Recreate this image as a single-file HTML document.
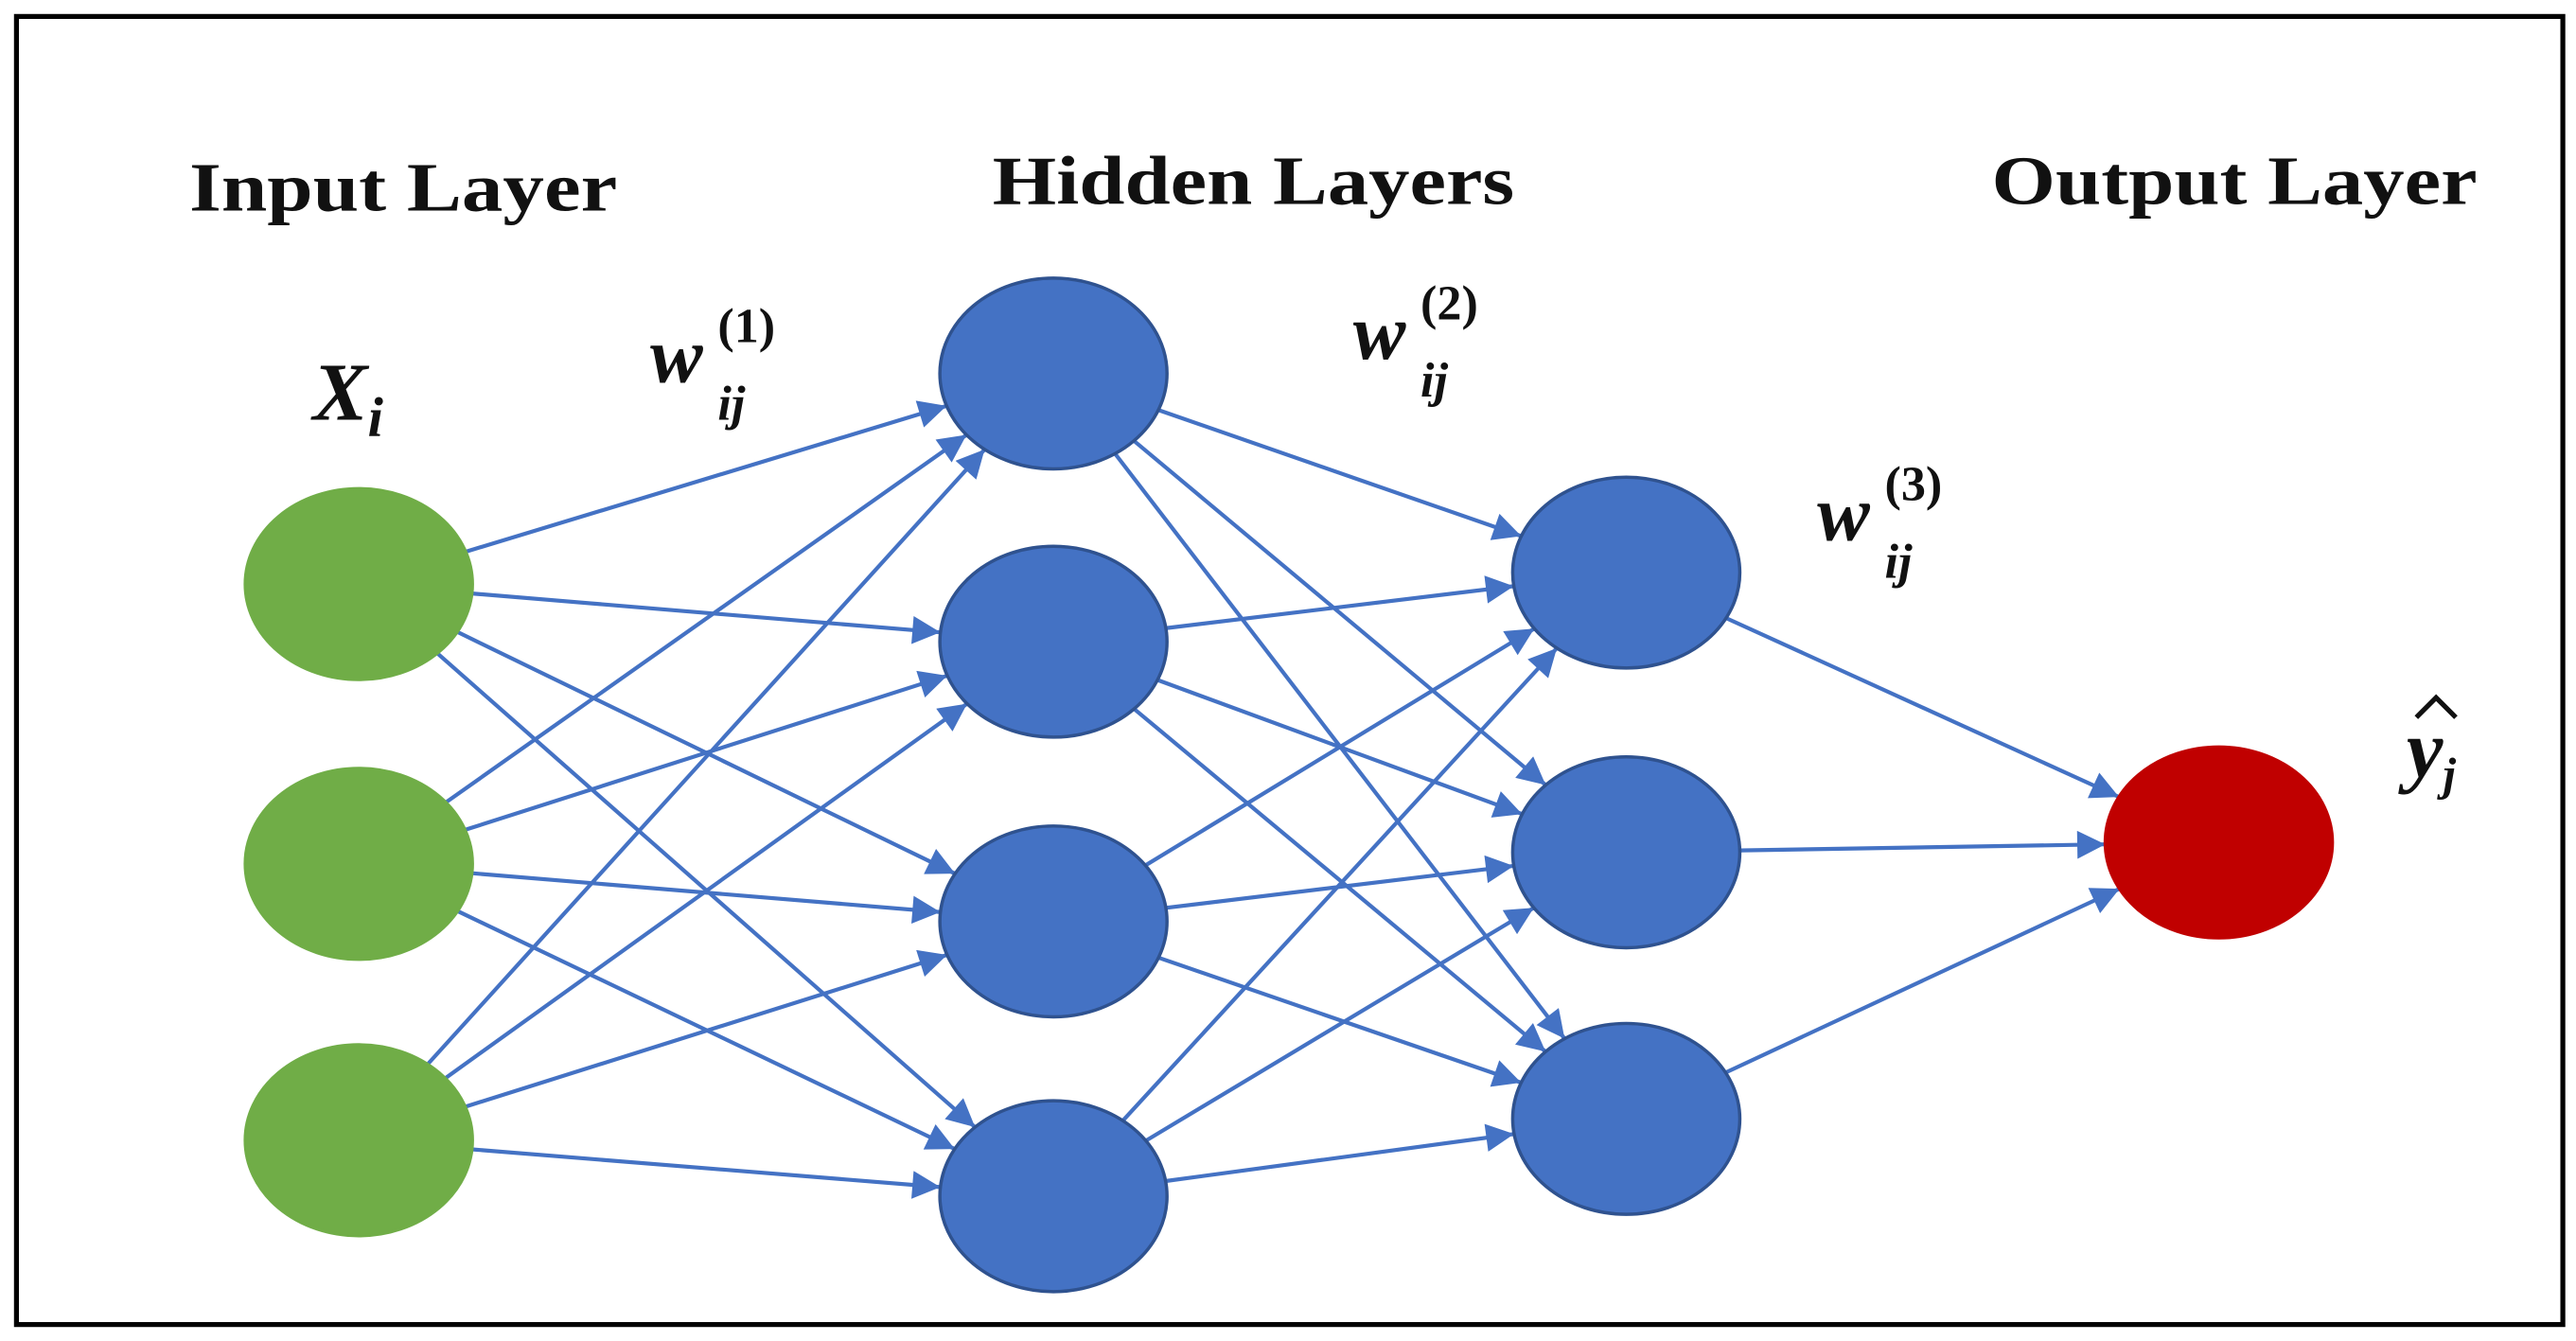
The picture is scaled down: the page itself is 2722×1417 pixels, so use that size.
<!DOCTYPE html>
<html><head><meta charset="utf-8"><style>
html,body{margin:0;padding:0;background:#fff;width:2722px;height:1417px;overflow:hidden}
svg{display:block}
text{font-family:"Liberation Serif",serif;fill:#111}
</style></head><body>
<svg id="s" width="2722" height="1417" viewBox="0 0 1565 815" preserveAspectRatio="none" xmlns="http://www.w3.org/2000/svg">
<defs>
<marker id="a" viewBox="0 0 10 10" refX="10" refY="5" markerWidth="22" markerHeight="17" markerUnits="userSpaceOnUse" orient="auto">
<path d="M0,0 L10,5 L0,10 z" fill="#4472C4"/></marker>
</defs>
<rect x="10" y="10" width="1547" height="795" fill="#fff" stroke="#000" stroke-width="3"/>
<g id="edges" stroke="#4472C4" stroke-width="2.4" fill="none"></g>
<g id="nodes"></g>
<text x="115" y="128" font-size="42" font-weight="bold" textLength="260" lengthAdjust="spacingAndGlyphs">Input Layer</text>
<text x="603" y="124" font-size="42" font-weight="bold" textLength="317" lengthAdjust="spacingAndGlyphs">Hidden Layers</text>
<text x="1210" y="124" font-size="42" font-weight="bold" textLength="295" lengthAdjust="spacingAndGlyphs">Output Layer</text>
<text x="190" y="255" font-size="50" font-weight="bold" font-style="italic">X<tspan font-size="34" dy="10">i</tspan></text>
<text x="395" y="232" font-size="48" font-weight="bold" font-style="italic">w</text>
<text x="436" y="255" font-size="30" font-weight="bold" font-style="italic">ij</text>
<text x="436" y="208" font-size="30" font-weight="bold">(1)</text>
<text x="822" y="218" font-size="48" font-weight="bold" font-style="italic">w</text>
<text x="863" y="241" font-size="30" font-weight="bold" font-style="italic">ij</text>
<text x="863" y="194" font-size="30" font-weight="bold">(2)</text>
<text x="1104" y="328" font-size="48" font-weight="bold" font-style="italic">w</text>
<text x="1145" y="351" font-size="30" font-weight="bold" font-style="italic">ij</text>
<text x="1145" y="304" font-size="30" font-weight="bold">(3)</text>
<text x="1462" y="472" font-size="50" font-weight="bold" font-style="italic">y<tspan font-size="28" dy="8">j</tspan></text>
<path d="M1468,436 L1480,424 L1492,436" fill="none" stroke="#111" stroke-width="3"/>
</svg>
<script>
var L=[[[218,355],[218,525],[218,693]],[[640,227],[640,390],[640,560],[640,727]],[[988,348],[988,518],[988,680]],[[1348,512]]];
var rx=69,ry=58,ns="http://www.w3.org/2000/svg";
var E=document.getElementById('edges'),N=document.getElementById('nodes');
function cl(c,d){var t=1/Math.sqrt((d[0]*d[0])/(rx*rx)+(d[1]*d[1])/(ry*ry));return [c[0]+d[0]*t,c[1]+d[1]*t];}
for(var l=0;l<3;l++)for(var i=0;i<L[l].length;i++)for(var j=0;j<L[l+1].length;j++){
var s=L[l][i],t=L[l+1][j],d=[t[0]-s[0],t[1]-s[1]];
var p=cl(s,d),q=cl(t,[-d[0],-d[1]]);
var e=document.createElementNS(ns,'line');
e.setAttribute('x1',p[0]);e.setAttribute('y1',p[1]);e.setAttribute('x2',q[0]);e.setAttribute('y2',q[1]);
e.setAttribute('marker-end','url(#a)');E.appendChild(e);}
var cols=['#70AD47','#4472C4','#4472C4','#C00000'],st=['#70AD47','#2F528F','#2F528F','#C00000'];
for(var l=0;l<4;l++)L[l].forEach(function(c){var e=document.createElementNS(ns,'ellipse');
e.setAttribute('cx',c[0]);e.setAttribute('cy',c[1]);e.setAttribute('rx',rx);e.setAttribute('ry',ry);
e.setAttribute('fill',cols[l]);e.setAttribute('stroke',st[l]);e.setAttribute('stroke-width','2');N.appendChild(e);});
</script>
</body></html>
